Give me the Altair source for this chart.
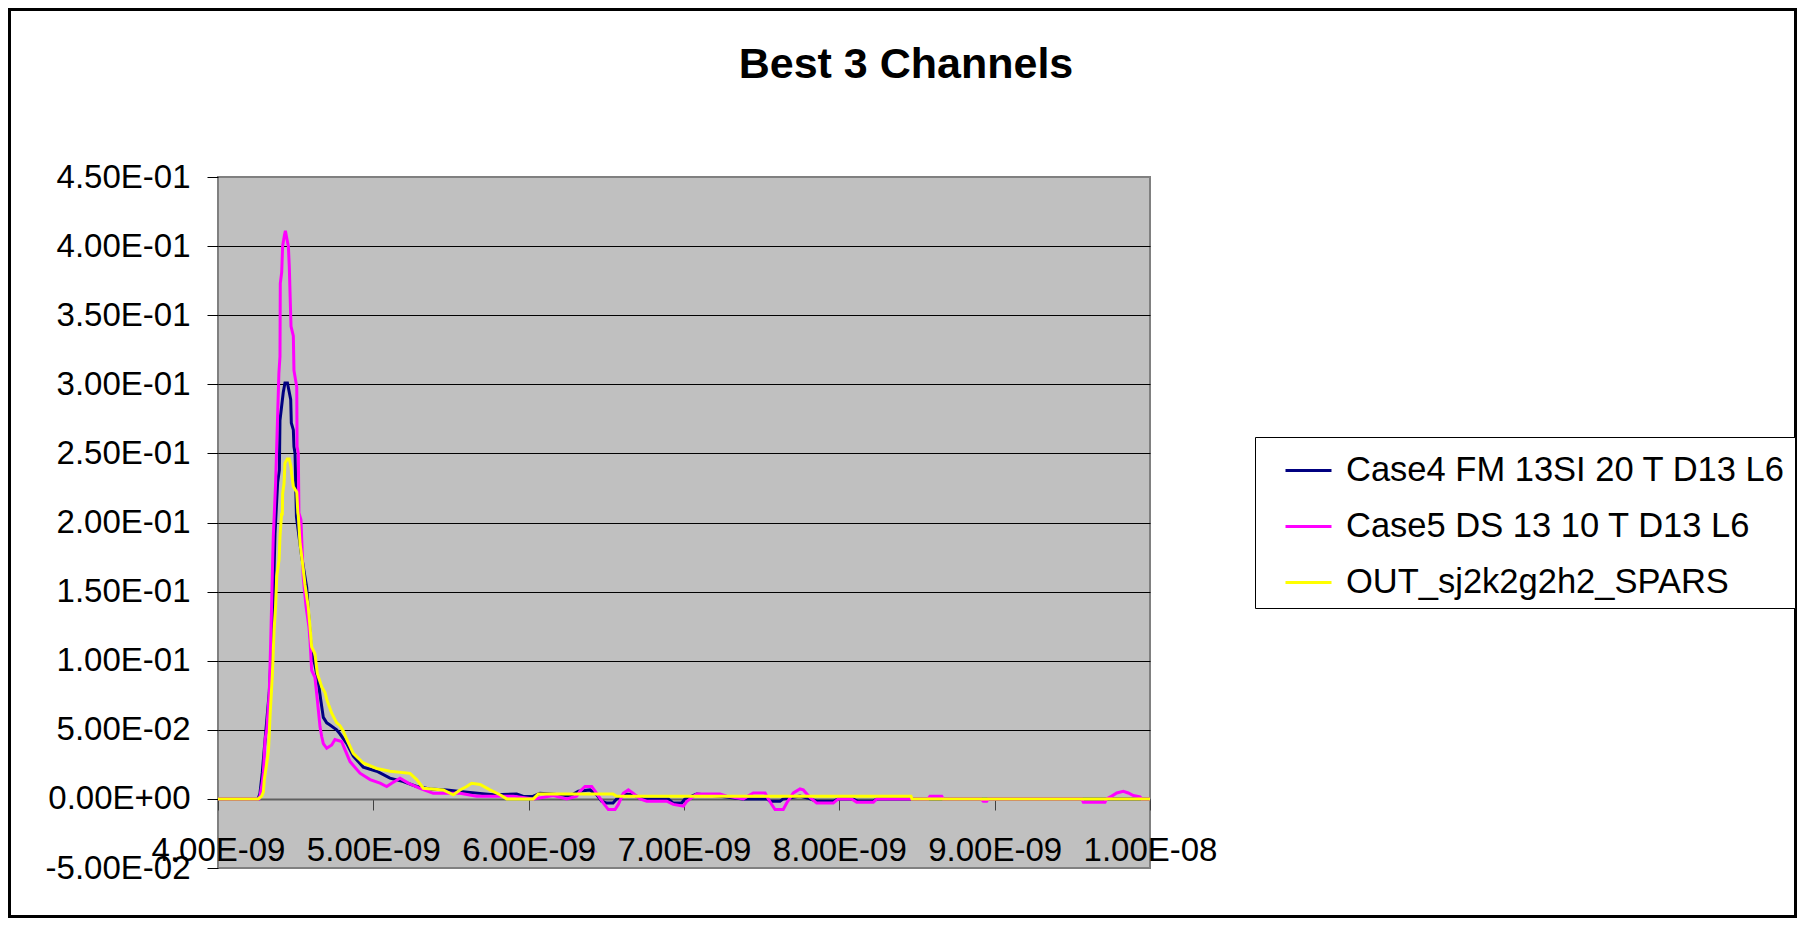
import altair as alt
import pandas as pd

# ---- data (time in ns, value) ----
series_names = ["Case4 FM 13SI 20 T D13 L6", "Case5 DS 13 10 T D13 L6", "OUT_sj2k2g2h2_SPARS"]
series_colors = ["#000080", "#FF00FF", "#FFFF00"]

case4_t = [4.000, 4.258, 4.270, 4.285, 4.307, 4.330, 4.346, 4.356, 4.367, 4.378,
           4.384, 4.395, 4.399, 4.420, 4.431, 4.447, 4.468, 4.472, 4.485, 4.489,
           4.496, 4.505, 4.539, 4.571, 4.581, 4.603, 4.624, 4.646, 4.661, 4.678,
           4.700, 4.721, 4.764, 4.785, 4.829, 4.871, 4.935, 5.022, 5.107, 5.193,
           5.279, 5.365, 5.472, 5.590, 5.687, 5.772, 5.923, 5.966, 6.028, 6.073,
           6.202, 6.266, 6.320, 6.395, 6.438, 6.470, 6.502, 6.543, 6.567, 6.620,
           6.672, 6.738, 6.899, 6.931, 6.985, 7.006, 7.082, 7.232, 7.380, 7.534,
           7.554, 7.618, 7.639, 7.747, 7.811, 7.854, 7.961, 7.992, 8.088, 8.120,
           8.217, 8.242, 10.000]
case4_v = [0, 0, 0.004, 0.019, 0.048, 0.077, 0.113, 0.144, 0.192, 0.216,
           0.229, 0.238, 0.274, 0.294, 0.301, 0.301, 0.289, 0.272, 0.267, 0.255,
           0.250, 0.204, 0.175, 0.153, 0.137, 0.105, 0.097, 0.084, 0.072, 0.059,
           0.055, 0.0535, 0.050, 0.047, 0.040, 0.031, 0.023, 0.020, 0.015, 0.0125,
           0.009, 0.0072, 0.0065, 0.005, 0.004, 0.003, 0.0036, 0.0018, 0.0018, 0.004,
           0.003, 0.002, 0.0055, 0.0065, 0.003, -0.0017, -0.003, -0.003, 0, 0.0036,
           0.003, 0, 0, -0.003, -0.003, 0, 0.0036, 0.002, 0, 0,
           -0.0017, -0.0017, 0, 0.002, 0, -0.0017, -0.0017, 0, 0, -0.0017,
           -0.0017, 0, 0]

case5_t = [4.000, 4.264, 4.270, 4.285, 4.292, 4.303, 4.314, 4.330, 4.339, 4.346,
           4.352, 4.356, 4.362, 4.371, 4.392, 4.399, 4.401, 4.410, 4.416, 4.428,
           4.434, 4.444, 4.453, 4.459, 4.470, 4.485, 4.489, 4.507, 4.509, 4.517,
           4.521, 4.534, 4.540, 4.545, 4.549, 4.567, 4.586, 4.592, 4.603, 4.624,
           4.639, 4.657, 4.668, 4.678, 4.700, 4.732, 4.753, 4.796, 4.818, 4.850,
           4.914, 4.979, 5.043, 5.086, 5.118, 5.172, 5.225, 5.300, 5.386, 5.558,
           5.665, 5.901, 6.030, 6.159, 6.245, 6.309, 6.330, 6.363, 6.406, 6.438,
           6.481, 6.513, 6.556, 6.577, 6.609, 6.642, 6.674, 6.717, 6.760, 6.889,
           6.931, 6.996, 7.017, 7.082, 7.232, 7.275, 7.382, 7.446, 7.522, 7.543,
           7.565, 7.586, 7.639, 7.661, 7.704, 7.747, 7.768, 7.811, 7.854, 7.961,
           7.993, 8.079, 8.112, 8.219, 8.241, 8.571, 8.584, 8.659, 8.669, 8.912,
           8.927, 8.949, 8.959, 9.560, 9.571, 9.710, 9.721, 9.754, 9.786, 9.828,
           9.860, 9.893, 9.936, 9.947, 10.000]
case5_v = [0, 0, 0.002, 0.0116, 0.019, 0.043, 0.050, 0.077, 0.113, 0.144,
           0.173, 0.190, 0.205, 0.229, 0.308, 0.320, 0.373, 0.381, 0.400, 0.408,
           0.411, 0.405, 0.400, 0.385, 0.342, 0.335, 0.310, 0.298, 0.255, 0.250,
           0.207, 0.202, 0.185, 0.171, 0.160, 0.139, 0.124, 0.115, 0.093, 0.088,
           0.072, 0.052, 0.045, 0.040, 0.0366, 0.039, 0.043, 0.0415, 0.0355, 0.027,
           0.0186, 0.014, 0.0114, 0.0089, 0.0114, 0.015, 0.0114, 0.0077, 0.004, 0.004,
           0.002, 0.002, 0, 0.0024, 0, 0.002, 0.0055, 0.009, 0.009, 0.004,
           -0.003, -0.0077, -0.0077, -0.004, 0.004, 0.0065, 0.004, 0, -0.0017, -0.0017,
           -0.004, -0.0053, -0.002, 0.0036, 0.0036, 0.002, 0, 0.0043, 0.0043, 0,
           -0.0041, -0.0077, -0.0077, -0.003, 0.0043, 0.0072, 0.0065, 0.001, -0.003, -0.003,
           0, 0, -0.0024, -0.0024, 0, 0, 0.002, 0.002, 0, 0,
           -0.0017, -0.0017, 0, 0, -0.0024, -0.0024, 0, 0.002, 0.0043, 0.0055,
           0.0043, 0.0024, 0.0015, 0, 0]

out_t = [4.000, 4.259, 4.281, 4.292, 4.298, 4.314, 4.325, 4.335, 4.350, 4.361,
         4.371, 4.378, 4.393, 4.399, 4.410, 4.414, 4.416, 4.425, 4.431, 4.446,
         4.459, 4.470, 4.474, 4.485, 4.507, 4.514, 4.517, 4.528, 4.549, 4.560,
         4.581, 4.592, 4.603, 4.624, 4.639, 4.668, 4.689, 4.700, 4.732, 4.764,
         4.785, 4.807, 4.829, 4.871, 4.935, 5.022, 5.107, 5.236, 5.279, 5.322,
         5.450, 5.515, 5.558, 5.601, 5.633, 5.687, 5.751, 5.815, 5.859, 6.030,
         6.062, 6.543, 6.567, 8.461, 8.468, 10.000]
out_v = [0, 0, 0.002, 0.005, 0.014, 0.026, 0.035, 0.060, 0.090, 0.122,
         0.140, 0.161, 0.173, 0.190, 0.207, 0.205, 0.221, 0.228, 0.243, 0.246,
         0.246, 0.240, 0.235, 0.226, 0.222, 0.207, 0.205, 0.185, 0.166, 0.155,
         0.139, 0.125, 0.110, 0.105, 0.091, 0.081, 0.077, 0.072, 0.062, 0.055,
         0.053, 0.049, 0.043, 0.033, 0.026, 0.022, 0.020, 0.0185, 0.014, 0.0077,
         0.0065, 0.003, 0.0065, 0.009, 0.0113, 0.0105, 0.0065, 0.003, 0, 0,
         0.0036, 0.0036, 0.0019, 0.0019, 0, 0]

x_ticks_ns = [4, 5, 6, 7, 8, 9, 10]
y_ticks = [-0.05, 0.0, 0.05, 0.10, 0.15, 0.20, 0.25, 0.30, 0.35, 0.40, 0.45]
title_text = "Best 3 Channels"

assert len(case4_t) == len(case4_v)
assert len(case5_t) == len(case5_v)
assert len(out_t) == len(out_v)

rows = []
for name, ts, vs in zip(series_names, [case4_t, case5_t, out_t], [case4_v, case5_v, out_v]):
    for i, (t, v) in enumerate(zip(ts, vs)):
        rows.append({"series": name, "time": t * 1e-9, "value": v, "i": i})
df = pd.DataFrame(rows)

FONT = "Liberation Sans"

x_enc = alt.X(
    "time:Q",
    scale=alt.Scale(domain=[4e-9, 1e-8], nice=False, zero=False),
    axis=alt.Axis(
        title=None, values=[t * 1e-9 for t in x_ticks_ns], offset=-69,
        grid=False, tickSize=11, tickColor="#404040", tickWidth=1,
        domainColor="#606060", domainWidth=2,
        labelFontSize=33, labelFont=FONT, labelColor="black", labelPadding=24,
        labelOverlap=False, labelFlush=False, labelBound=False,
        labelExpr="datum.value >= 9.995e-9 ? format(datum.value*1e8, '.2f') + 'E-08' : format(datum.value*1e9, '.2f') + 'E-09'",
    ),
)
y_enc = alt.Y(
    "value:Q",
    scale=alt.Scale(domain=[-0.05, 0.45], nice=False, zero=False),
    axis=alt.Axis(
        title=None, values=y_ticks, domain=False,
        grid=True, gridWidth=1,
        gridColor={"condition": {"test": "datum.value > 0.449 || datum.value < -0.049", "value": "#808080"}, "value": "#000000"},
        tickSize=11, tickColor="black", tickWidth=1,
        labelFontSize=33, labelFont=FONT, labelColor="black", labelPadding=17,
        labelOverlap=False, labelFlush=False, labelBound=False,
        labelExpr="abs(datum.value) < 1e-9 ? '0.00E+00' : ((datum.value < 0 ? '-' : '') + (abs(datum.value) >= 0.0995 ? format(abs(datum.value)*10, '.2f') + 'E-01' : format(abs(datum.value)*100, '.2f') + 'E-02'))",
    ),
)
color_enc = alt.Color(
    "series:N",
    scale=alt.Scale(domain=series_names, range=series_colors),
    legend=alt.Legend(
        orient="none", legendX=1037, legendY=260, title=None,
        fillColor="white", strokeColor="black", padding=9,
        symbolType="stroke", symbolSize=2116, symbolStrokeWidth=3,
        symbolOffset=20, labelOffset=13,
        labelFontSize=34.5, labelFont=FONT, labelColor="black", labelLimit=900,
        rowPadding=15,
    ),
)

base = alt.Chart(df)
lines = [
    base.transform_filter(alt.datum.series == name)
    .mark_line(strokeWidth=3, strokeJoin="miter")
    .encode(x=x_enc, y=y_enc, color=color_enc, order=alt.Order("i:Q"))
    for name in series_names
]

border = alt.Chart(pd.DataFrame({"k": [0]})).mark_rect(
    fill="white", fillOpacity=0, stroke="black", strokeWidth=3
).encode(x=alt.value(-208.5), x2=alt.value(1577.5), y=alt.value(-167.5), y2=alt.value(739.5))

title = alt.Chart(pd.DataFrame({"t": [title_text]})).mark_text(
    font=FONT, fontSize=43, fontWeight="bold", align="center", baseline="alphabetic", color="black"
).encode(text="t:N", x=alt.value(688), y=alt.value(-99))

chart = alt.layer(border, *lines, title).properties(
    width=932, height=691,
    autosize=alt.AutoSizeParams(type="none"),
    padding={"left": 210, "top": 169, "right": 647, "bottom": 50},
).configure(background="white", font=FONT).configure_view(
    fill="#C0C0C0", stroke="#808080", strokeWidth=2
)

chart.save("out.html", embed_options={"renderer": "svg", "actions": False})
